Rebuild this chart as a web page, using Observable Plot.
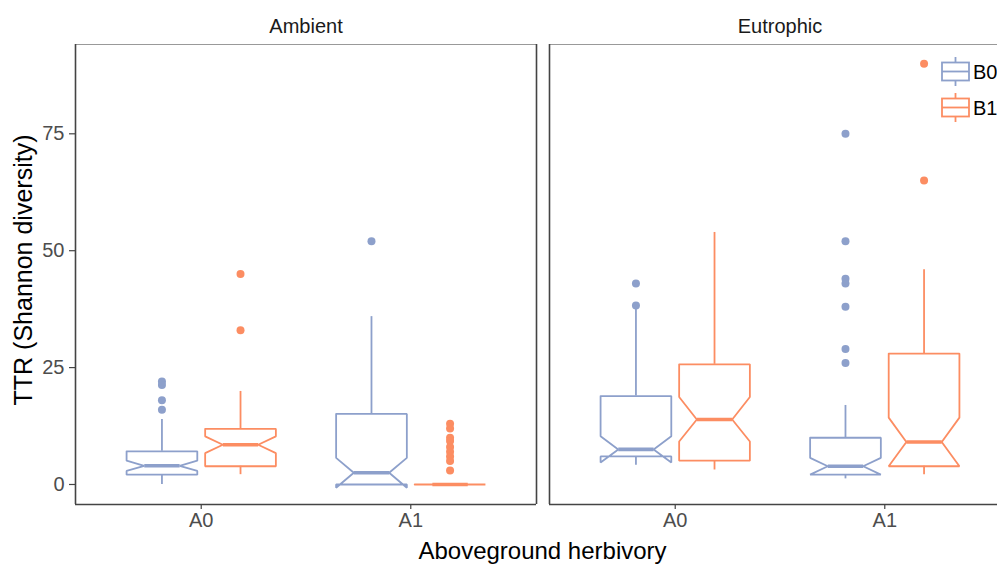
<!DOCTYPE html>
<html>
<head>
<meta charset="utf-8">
<script src="https://cdn.jsdelivr.net/npm/d3@7"></script>
<script src="https://cdn.jsdelivr.net/npm/@observablehq/plot@0.6"></script>
<style>
  html, body { margin: 0; padding: 0; background: #fff; overflow: hidden; }
  #chart { position: relative; width: 997px; height: 564px; overflow: hidden; }
  #chart svg { max-width: none !important; }
</style>
</head>
<body>
<div id="chart"></div>
<script>
// ---- data ----
const facetNames = ["Ambient", "Eutrophic"];
const herbivory = ["A0", "A1"];
const belowground = ["B0", "B1"];
const seriesColors = ["#8da0cb", "#fc8d62"];

const groupFacet = ["Ambient", "Ambient", "Ambient", "Ambient", "Eutrophic", "Eutrophic", "Eutrophic", "Eutrophic"];
const groupHerb  = ["A0", "A0", "A1", "A1", "A0", "A0", "A1", "A1"];
const groupBelow = ["B0", "B1", "B0", "B1", "B0", "B1", "B0", "B1"];
const whiskerLow  = [0.0, 2.1, 0.0, 0.0, 4.1, 3.1, 1.2, 2.1];
const hingeLow    = [2.1, 3.9, 0.0, 0.0, 6.0, 5.1, 2.1, 3.9];
const notchLow    = [2.9, 6.7, -0.7, 0.0, 4.7, 9.2, 2.1, 3.9];
const medianVal   = [4.0, 8.5, 2.5, 0.0, 7.5, 13.9, 3.9, 9.1];
const notchHigh   = [5.1, 10.3, 5.7, 0.0, 10.3, 18.7, 5.7, 14.3];
const hingeHigh   = [7.1, 11.9, 15.1, 0.0, 18.9, 25.7, 10.0, 28.0];
const whiskerHigh = [13.9, 19.9, 35.9, 0.0, 37.8, 53.9, 16.9, 45.9];
const outlierVals = [
  [22, 21.3, 18, 16],
  [45, 33],
  [52],
  [13, 12, 10, 9.3, 8, 7, 6, 5, 3],
  [43, 38.3],
  [],
  [75, 52, 44, 43, 38, 29, 26],
  [90, 65]
];

const yTicks = [0, 25, 50, 75];
const yLabel = "TTR (Shannon diversity)";
const xLabel = "Aboveground herbivory";

// ---- derived tables ----
const dodge = 0.1875, halfW = 0.16875, notchW = halfW * 0.5;
const xLo = 0.4, xHi = 2.6, yLo = -4.28, yHi = 94.1;

const groups = groupFacet.map((f, i) => {
  const c = herbivory.indexOf(groupHerb[i]) + 1 + (groupBelow[i] === "B0" ? -dodge : dodge);
  return {i, facet: f, below: groupBelow[i], c,
    wlo: whiskerLow[i], q1: hingeLow[i], nlo: notchLow[i], med: medianVal[i],
    nhi: notchHigh[i], q3: hingeHigh[i], whi: whiskerHigh[i]};
});

const boxVerts = groups.flatMap(g => [
  [g.c - halfW, g.q3], [g.c - halfW, g.nhi], [g.c - notchW, g.med], [g.c - halfW, g.nlo],
  [g.c - halfW, g.q1], [g.c + halfW, g.q1], [g.c + halfW, g.nlo], [g.c + notchW, g.med],
  [g.c + halfW, g.nhi], [g.c + halfW, g.q3], [g.c - halfW, g.q3]
].map(([x, y]) => ({id: g.i, facet: g.facet, below: g.below, x, y})));

const outliers = groups.flatMap(g => outlierVals[g.i].map(v => ({facet: g.facet, below: g.below, x: g.c, y: v})));

const frameRows = facetNames.map(f => ({facet: f}));

const font = "'Liberation Sans', Arial, Helvetica, sans-serif";
const axisColor = "#444";

const plot = Plot.plot({
  width: 1010,
  height: 564,
  marginLeft: 75,
  marginRight: 0,
  marginTop: 44,
  marginBottom: 60,
  style: {fontFamily: font, fontSize: "20px", color: "#4d4d4d", background: "#fff", overflow: "visible", maxWidth: "none"},
  fx: {domain: facetNames, paddingInner: 13 / 474, paddingOuter: 0, axis: null, label: null},
  x: {domain: [xLo, xHi], axis: null},
  y: {domain: [yLo, yHi], axis: null},
  color: {domain: belowground, range: seriesColors},
  marks: [
    // panel borders
    Plot.ruleY(frameRows, {fx: "facet", y: () => yHi, stroke: "#999", strokeWidth: 1}),
    Plot.ruleY(frameRows, {fx: "facet", y: () => yLo, stroke: axisColor, strokeWidth: 1.6}),
    Plot.ruleX(frameRows, {fx: "facet", x: () => xLo, stroke: axisColor, strokeWidth: 1.6}),
    Plot.ruleX(frameRows, {fx: "facet", x: () => xHi, stroke: axisColor, strokeWidth: 1.6}),
    // axes
    Plot.axisY({ticks: yTicks, tickSize: 6, tickPadding: 5, label: null, stroke: axisColor, fontSize: 20, color: "#4d4d4d", strokeWidth: 1.2}),
    Plot.axisX({ticks: [1, 2], tickFormat: d => herbivory[d - 1], tickSize: 5, tickPadding: 3, label: null, stroke: axisColor, fontSize: 20, strokeWidth: 1.2}),
    Plot.axisFx({anchor: "top", tickSize: 0, tickPadding: 12, label: null, fontSize: 20, fill: "#1a1a1a"}),
    // outliers
    Plot.dot(outliers, {fx: "facet", x: "x", y: "y", r: 4, fill: "below", stroke: null}),
    // whiskers
    Plot.ruleX(groups, {fx: "facet", x: "c", y1: "q3", y2: "whi", stroke: "below", strokeWidth: 1.8}),
    Plot.ruleX(groups, {fx: "facet", x: "c", y1: "q1", y2: "wlo", stroke: "below", strokeWidth: 1.8}),
    // notched boxes
    Plot.line(boxVerts, {fx: "facet", x: "x", y: "y", z: "id", stroke: "below", strokeWidth: 1.8, strokeLinejoin: "miter", curve: "linear"}),
    // medians
    Plot.link(groups, {fx: "facet", x1: g => g.c - notchW, x2: g => g.c + notchW, y1: "med", y2: "med", stroke: "below", strokeWidth: 3.6})
  ]
});

document.getElementById("chart").appendChild(plot);

// axis titles and legend added onto the svg
const svg = d3.select(plot.tagName.toLowerCase() === "svg" ? plot : plot.querySelector("svg"));
svg.append("text")
  .attr("x", (75 + 1010) / 2).attr("y", 559)
  .attr("text-anchor", "middle")
  .style("font-family", font).style("font-size", "24px").attr("fill", "#000")
  .text(xLabel);
svg.append("text")
  .attr("transform", `translate(32,${(44 + 504) / 2 - 4}) rotate(-90)`)
  .attr("text-anchor", "middle")
  .style("font-family", font).style("font-size", "25px").attr("fill", "#000")
  .text(yLabel);

const leg = svg.append("g");
belowground.forEach((b, i) => {
  const cy = 71.5 + 36 * i;
  const col = seriesColors[i];
  const g = leg.append("g").attr("stroke", col).attr("stroke-width", 1.8).attr("fill", "none");
  g.append("line").attr("x1", 955.5).attr("x2", 955.5).attr("y1", cy - 14.5).attr("y2", cy - 9);
  g.append("line").attr("x1", 955.5).attr("x2", 955.5).attr("y1", cy + 9).attr("y2", cy + 14.5);
  g.append("rect").attr("x", 942).attr("y", cy - 9).attr("width", 27).attr("height", 18);
  g.append("line").attr("x1", 942).attr("x2", 969).attr("y1", cy).attr("y2", cy);
  leg.append("text").attr("x", 973).attr("y", cy).attr("dy", "0.35em")
    .attr("text-anchor", "start")
    .style("font-family", font).style("font-size", "20px").attr("fill", "#000").text(b);
});
</script>
</body>
</html>
